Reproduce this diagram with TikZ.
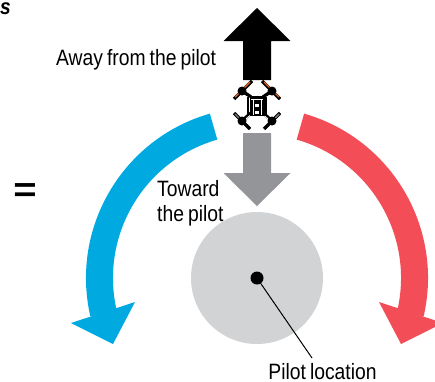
\documentclass[tikz,border=0pt]{standalone}
\usepackage{fontspec}
\setmainfont[FakeStretch=0.87,WordSpace=0.75]{Liberation Sans}
\usepackage{xcolor}
\definecolor{turnblue}{HTML}{00A9E0}
\definecolor{turnred}{HTML}{F34E58}
\definecolor{backgrey}{HTML}{939598}
\definecolor{pilotgrey}{HTML}{D1D3D4}
\definecolor{rotororange}{HTML}{D9622B}
\definecolor{rotorgrey}{HTML}{7D7E81}
\tikzset{
	caption/.style = {font = \fontsize{22.2}{25}\selectfont, inner sep = 0pt, align = left},
}
\newcommand{\BlockArrow}[4]{%
	\fill [#1] (257,#2) -- (290.5,#3) -- (271,#3) -- (271,#4) -- (243,#4) -- (243,#3) -- (223.5,#3) -- cycle;%
}

\begin{document}
\begin{tikzpicture}[x = 1pt, y = -1pt]
	\def\Rout{171};
	\def\Rin{144};
	\useasboundingbox (0,0) rectangle (435,381);
	
	% pilot
	\coordinate (center) at (257,278);
	\node [circle, fill = pilotgrey, minimum size = 132pt, inner sep = 0pt] (pilotarea) at (center) {};
	\node [circle, fill = black, minimum size = 13pt, inner sep = 0pt] (pilotdot) at (center) {};
	\node [caption, anchor = base] (pilotlabel) at (322.5,379) {Pilot location};
	\coordinate (leaderend) at (312,358);
	\draw [line width = 1pt] (pilotdot.center) -- (leaderend);
	
	% turning arrows
	\begin{scope}[shift = {(center)}]
		\fill [turnblue] (-106:\Rout) arc [start angle = -106, end angle = -193, radius = \Rout] -- (-193:\Rin) arc [start angle = -193, end angle = -106, radius = \Rin] -- cycle;
		\fill [turnblue] (-186,45) -- (-122,24) -- (-144,66) -- cycle;
		\fill [turnred] (-74:\Rout) arc [start angle = -74, end angle = 13, radius = \Rout] -- (13:\Rin) arc [start angle = 13, end angle = -74, radius = \Rin] -- cycle;
		\fill [turnred] (186,45) -- (122,24) -- (144,66) -- cycle;
	\end{scope}
	
	% away and toward arrows
	\BlockArrow{black}{8}{41}{80}
	\BlockArrow{backgrey}{206}{173}{133}
	
	% drone
	\begin{scope}[shift = {(257,106)}]
		\foreach \sx in {-1,1} {
			\draw [line width = 3.4pt] (\sx*15,-15) -- (\sx*6,-9);
			\draw [line width = 3.4pt] (\sx*15,15) -- (\sx*6,7);
			\draw [white, line width = 1pt] (\sx*14,-11) -- (\sx*6,-7);
			\draw [white, line width = 1pt] (\sx*11,13) -- (\sx*4,7);
			\draw [line width = 3.4pt] (\sx*5,-25) -- (\sx*23,-7);
			\draw [line width = 1.4pt, rotororange] (\sx*7,-24) -- (\sx*22,-9);
			\draw [line width = 3.4pt] (\sx*23,7) -- (\sx*7,23);
			\draw [line width = 1.4pt, rotorgrey] (\sx*22,8) -- (\sx*18,12);
			\fill (\sx*15,-15) circle [radius = 4.5pt];
			\fill (\sx*15,15) circle [radius = 4.5pt];
			\draw [line width = 2.4pt] (\sx*9,-9) -- (\sx*9,10);
		}
		\fill (-7.5,-10) rectangle (7.5,10);
		\fill [white] (-2,-2) rectangle (2,1);
		\fill [white] (-2,5) rectangle (2,8);
		\draw [white, line width = 0.7pt] (-6,-7) -- (6,-7);
		\draw [white, line width = 0.6pt] (-4,-7) -- (-4,9);
		\draw [white, line width = 0.6pt] (4,-7) -- (4,9);
	\end{scope}
	
	% captions
	\node [caption, anchor = base west] (awaylabel) at (56,65) {Away from the pilot};
	\node [caption, anchor = base west] (towardlabel) at (157,196) {Toward};
	\node [caption, anchor = base west] (thelabel) at (157,221) {the pilot};
	\node [font = \fontsize{46}{46}\selectfont\bfseries, inner sep = 0pt, yscale = 0.75] (equals) at (25,193) {=};
	\node [font = \fontsize{22}{22}\selectfont\bfseries\itshape, inner sep = 0pt, anchor = base west] (cutletter) at (0,14) {s};
\end{tikzpicture}
\end{document}
